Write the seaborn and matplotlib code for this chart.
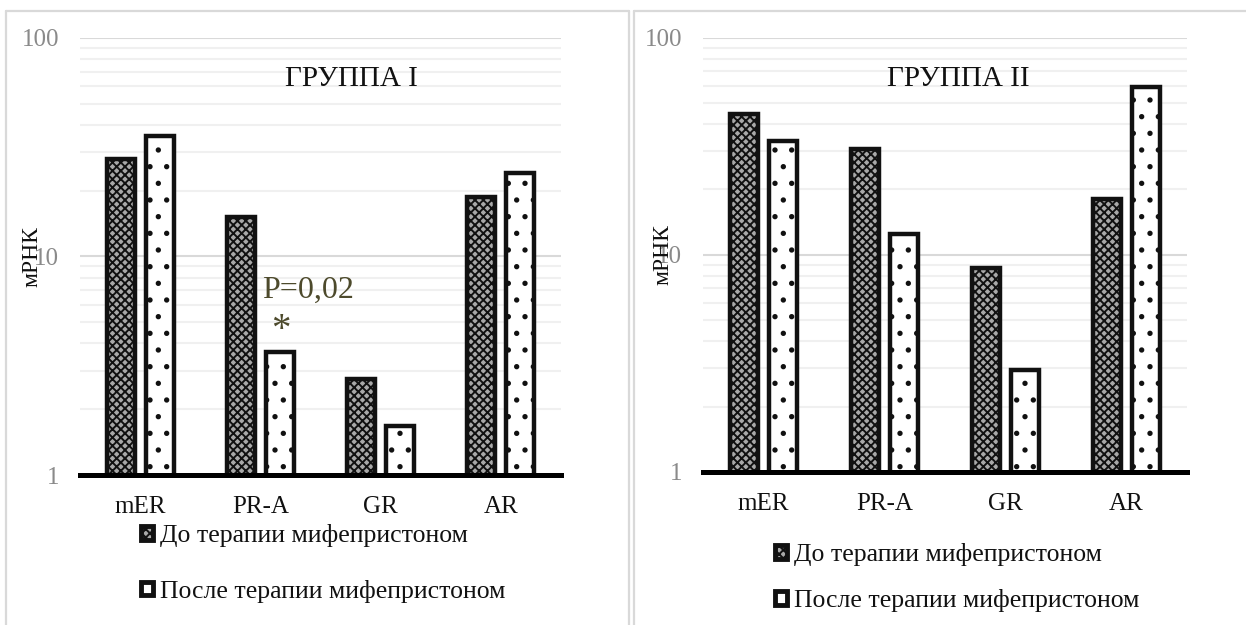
import matplotlib
matplotlib.use("Agg")
import matplotlib.pyplot as plt
from matplotlib.patches import Patch
from matplotlib.lines import Line2D
from matplotlib.ticker import LogLocator, FixedLocator, NullFormatter
import numpy as np
import pandas as pd
import seaborn as sns

# Expression levels (mRNA, log scale)
genes = ["mER", "PR-A", "GR", "AR"]
group1_before = [27.9, 15.1, 2.75, 18.6]
group1_after = [35.4, 3.64, 1.68, 24.0]
group2_before = [44.7, 30.7, 8.7, 18.1]
group2_after = [33.4, 12.5, 2.95, 59.6]

period_labels = ["До терапии мифепристоном", "После терапии мифепристоном"]
panel_titles = ["ГРУППА I", "ГРУППА II"]
y_label = "мРНК"
y_ticks = [1, 10, 100]
p_label = "P=0,02"

sns.set_theme(style="white")
plt.rcParams["font.family"] = ["Liberation Serif", "DejaVu Serif"]
plt.rcParams["hatch.linewidth"] = 1.4

W, H = 1246, 625
fig = plt.figure(figsize=(W / 100, H / 100), dpi=100)


def fx(px):
    return px / W


def fy(py):
    return 1 - py / H


# Panel frames
frame_kw = dict(color="#d9d9d9", lw=1.6, transform=fig.transFigure)
fig.add_artist(Line2D([fx(6), fx(6)], [fy(11), 0], **frame_kw))
fig.add_artist(Line2D([fx(6), fx(629)], [fy(11), fy(11)], **frame_kw))
fig.add_artist(Line2D([fx(629), fx(629)], [fy(11), 0], **frame_kw))
fig.add_artist(Line2D([fx(634), fx(634)], [fy(11), 0], **frame_kw))
fig.add_artist(Line2D([fx(634), 1], [fy(11), fy(11)], **frame_kw))

panels = [
    dict(rect=[fx(80), fy(475), 481 / W, (475 - 37.7) / H],
         before=group1_before, after=group1_after, title=panel_titles[0],
         title_xy=(0.565, 0.906), ylab_x=-0.0998,
         leg_xy=(fx(141), fy(563.5)), leg_spacing=1.25),
    dict(rect=[fx(703), fy(472), 484 / W, (472 - 37.7) / H],
         before=group2_before, after=group2_after, title=panel_titles[1],
         title_xy=(0.527, 0.905), ylab_x=-0.083,
         leg_xy=(fx(775), fy(577.5)), leg_spacing=0.9),
]

styles = [
    dict(facecolor="#a8a8a8", hatch="xxxx"),
    dict(facecolor="white", hatch="."),
]

for p in panels:
    ax = fig.add_axes(p["rect"])
    df = pd.DataFrame({
        "gene": genes * 2,
        "value": list(p["before"]) + list(p["after"]),
        "period": [period_labels[0]] * len(genes) + [period_labels[1]] * len(genes),
    })
    ax.set_yscale("log")
    sns.barplot(data=df, x="gene", y="value", hue="period", order=genes,
                hue_order=period_labels, width=0.65, gap=0.28,
                ax=ax, legend=False, zorder=3)
    for container, st in zip(ax.containers, styles):
        for bar in container:
            bar.set_facecolor(st["facecolor"])
            bar.set_hatch(st["hatch"])
            bar.set_edgecolor("#111111")
            bar.set_linewidth(3.2)
            bar.set_zorder(3)

    ax.set_ylim(1, 100)
    ax.set_xlim(-0.5, len(genes) - 0.5)
    ax.yaxis.set_major_locator(FixedLocator(y_ticks))
    ax.set_yticklabels([str(t) for t in y_ticks])
    ax.yaxis.set_minor_locator(LogLocator(base=10, subs=np.arange(2, 10)))
    ax.yaxis.set_minor_formatter(NullFormatter())
    ax.grid(axis="y", which="major", color="#d9d9d9", lw=1.5, zorder=0)
    ax.grid(axis="y", which="minor", color="#f0f0f0", lw=1.5, zorder=0)
    ax.set_axisbelow(True)

    for side in ["left", "right", "top"]:
        ax.spines[side].set_visible(False)
    ax.spines["bottom"].set_color("black")
    ax.spines["bottom"].set_linewidth(3.6)
    ax.spines["bottom"].set_zorder(4)

    ax.tick_params(axis="y", which="both", length=0, pad=15,
                   labelsize=18, labelcolor="#8a8a8a")
    ax.tick_params(axis="x", length=0, pad=15, labelsize=18,
                   labelcolor="#111111")
    ax.set_xlabel("")
    ax.set_ylabel(y_label, fontsize=17, color="#111111")
    ax.yaxis.set_label_coords(p["ylab_x"], 0.5)
    ax.yaxis.label.set_verticalalignment("center")

    ax.text(*p["title_xy"], p["title"], transform=ax.transAxes,
            ha="center", va="center", fontsize=21, color="#111111")

    handles = [
        Patch(facecolor=styles[0]["facecolor"], hatch="xxxx",
              edgecolor="#111111", lw=3.5),
        Patch(facecolor="white", edgecolor="#111111", lw=3.5),
    ]
    fig.legend(handles=handles, labels=period_labels, loc="center left",
               bbox_to_anchor=p["leg_xy"], bbox_transform=fig.transFigure,
               frameon=False, fontsize=18.5, handlelength=0.45,
               handleheight=0.45, handletextpad=0.3, borderpad=0,
               borderaxespad=0, labelspacing=p["leg_spacing"],
               labelcolor="#111111")

    if p is panels[0]:
        ax.text(0.474, 0.423, p_label, transform=ax.transAxes,
                ha="center", va="center", fontsize=23, color="#4d4a2c")
        ax.text(0.418, 0.33, "*", transform=ax.transAxes,
                ha="center", va="center", fontsize=28, color="#4d4a2c")

fig.savefig("out.png", dpi=100)
